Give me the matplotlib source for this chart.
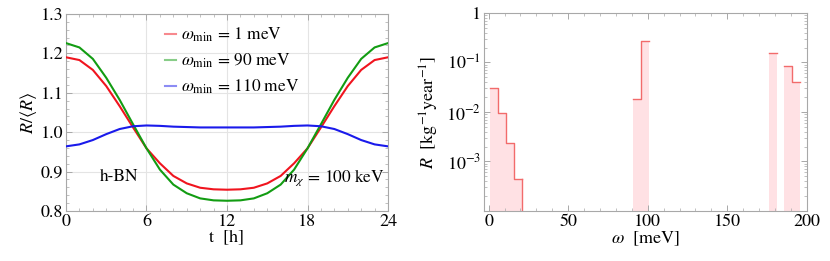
import matplotlib
matplotlib.use('Agg')
import matplotlib.pyplot as plt
from matplotlib.ticker import AutoMinorLocator, LogLocator, NullFormatter, FixedLocator
from matplotlib.lines import Line2D
import numpy as np

plt.rcParams['font.family'] = ['STIXGeneral', 'DejaVu Serif']
plt.rcParams['mathtext.fontset'] = 'stix'
plt.rcParams['font.size'] = 13

# left panel: daily modulation, hourly points
hours = list(range(25))
red_1meV = [1.190, 1.183, 1.158, 1.117, 1.066, 1.012, 0.959, 0.921, 0.889, 0.870, 0.859, 0.855, 0.854,
            0.855, 0.859, 0.870, 0.889, 0.921, 0.959, 1.012, 1.066, 1.117, 1.158, 1.183, 1.190]
green_90meV = [1.226, 1.215, 1.186, 1.138, 1.082, 1.020, 0.959, 0.905, 0.867, 0.845, 0.832, 0.827, 0.826,
               0.827, 0.832, 0.845, 0.867, 0.905, 0.959, 1.020, 1.082, 1.138, 1.186, 1.215, 1.226]
blue_110meV = [0.964, 0.969, 0.980, 0.995, 1.008, 1.015, 1.017, 1.016, 1.014, 1.013, 1.012, 1.012, 1.012,
               1.012, 1.012, 1.013, 1.014, 1.016, 1.017, 1.015, 1.008, 0.995, 0.980, 0.969, 0.964]
labels = [r'$\omega_{\rm min}\,=\,1\ {\rm meV}$', r'$\omega_{\rm min}\,=\,90\ {\rm meV}$',
          r'$\omega_{\rm min}\,=\,110\ {\rm meV}$']

# right panel: binned rate spectrum (bin left edges, width 5 meV)
bin_groups = [[1, 6, 11, 16], [91, 96], [176], [186, 191]]
rate_groups = [[0.031, 0.0095, 0.0024, 0.00045], [0.0186, 0.276], [0.158], [0.085, 0.041]]
bin_width = 5

red = '#f0141e'
green = '#129c12'
blue = '#1a1aeb'
frame_c = '#a8a8a8'

fig = plt.figure(figsize=(8.3, 2.61), dpi=100)
ax1 = fig.add_axes([0.0795, 0.1916, 0.388, 0.755])
ax2 = fig.add_axes([0.583, 0.1916, 0.389, 0.759])

for c, ys in [(red, red_1meV), (green, green_90meV), (blue, blue_110meV)]:
    ax1.plot(hours, ys, color=c, lw=1.5, zorder=3)
ax1.set_xlim(0, 24)
ax1.set_ylim(0.8, 1.3)
ax1.set_xticks([0, 6, 12, 18, 24])
ax1.set_yticks([0.8, 0.9, 1.0, 1.1, 1.2, 1.3])
ax1.yaxis.set_major_formatter(matplotlib.ticker.FormatStrFormatter('%.1f'))
ax1.xaxis.set_minor_locator(AutoMinorLocator(6))
ax1.yaxis.set_minor_locator(AutoMinorLocator(5))
ax1.grid(True, color='#e4e4e4', lw=0.8, zorder=0)
ax1.set_xlabel(r't  [h]', labelpad=0)
ax1.set_ylabel(r'$R/\langle R\rangle$', labelpad=1)
handles = [Line2D([], [], color=c, lw=1.5, alpha=0.5) for c in (red, green, blue)]
ax1.legend(handles, labels, loc='upper left', bbox_to_anchor=(0.26, 1.02), frameon=False,
           handlelength=0.6, handletextpad=0.3, labelspacing=0.45, fontsize=12.5)
ax1.text(0.105, 0.15, 'h-BN', transform=ax1.transAxes, fontsize=12.5)
ax1.text(0.99, 0.15, r'$m_\chi\,=\,100\ {\rm keV}$', transform=ax1.transAxes, ha='right', fontsize=12.5)

for edges, vals in zip(bin_groups, rate_groups):
    xs = list(edges) + [edges[-1] + bin_width]
    ys = list(vals) + [vals[-1]]
    ax2.fill_between(xs, 1e-5, ys, step='post', color='#ffe1e4', lw=0, zorder=1)
    ax2.step(xs, ys, where='post', color='#f26b6b', lw=1.0, zorder=2)
# drop of the first group's edge to below the axis
ax2.plot([bin_groups[0][-1] + bin_width] * 2, [1e-5, rate_groups[0][-1]], color='#f26b6b', lw=1.0)
ax2.set_yscale('log')
ax2.set_xlim(-3, 200)
ax2.set_ylim(1e-4, 1)
ax2.set_xticks([0, 50, 100, 150, 200])
ax2.xaxis.set_minor_locator(AutoMinorLocator(5))
ax2.yaxis.set_major_locator(FixedLocator([1e-3, 1e-2, 1e-1, 1]))
ax2.yaxis.set_major_formatter(matplotlib.ticker.FixedFormatter([r'$10^{-3}$', r'$10^{-2}$', r'$10^{-1}$', '1']))
ax2.yaxis.set_minor_locator(LogLocator(base=10, subs=np.arange(2, 10), numticks=10))
ax2.yaxis.set_minor_formatter(NullFormatter())
ax2.set_xlabel(r'$\omega$  [meV]', labelpad=0)
ax2.set_ylabel(r'$R\ \ [{\rm kg}^{-1}{\rm year}^{-1}]$', labelpad=4)

for ax in (ax1, ax2):
    for s in ax.spines.values():
        s.set_color(frame_c)
        s.set_linewidth(0.8)
    ax.tick_params(which='both', direction='in', top=True, right=True, color=frame_c, labelsize=13, pad=2)
    ax.tick_params(which='major', length=4, width=0.7)
    ax.tick_params(which='minor', length=2, width=0.5)

fig.savefig('out.png', dpi=100)
